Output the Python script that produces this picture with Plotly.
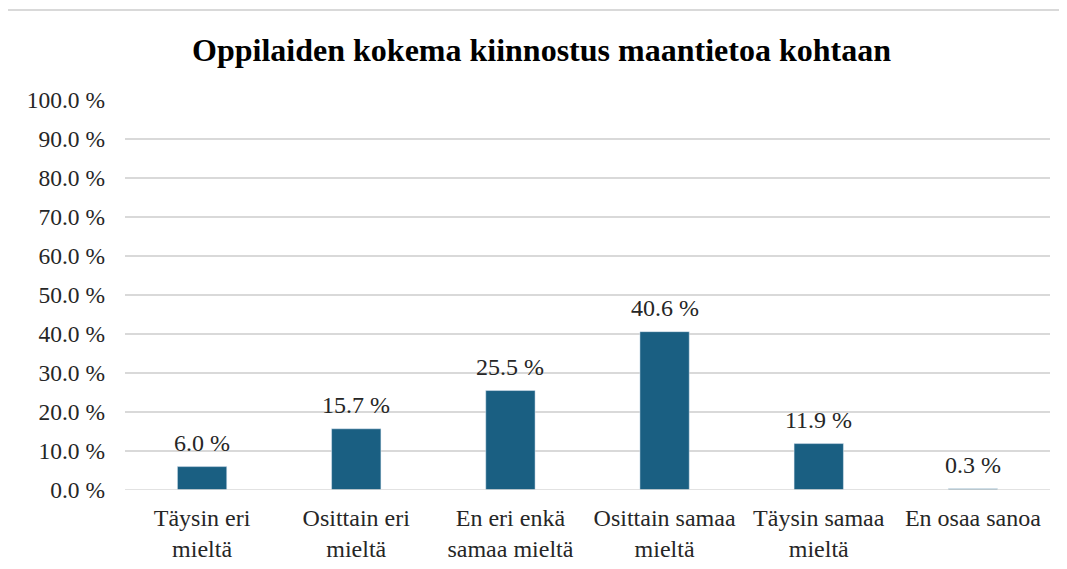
import plotly.graph_objects as go

categories = ["Täysin eri<br>mieltä", "Osittain eri<br>mieltä", "En eri enkä<br>samaa mieltä",
              "Osittain samaa<br>mieltä", "Täysin samaa<br>mieltä", "En osaa sanoa"]
values = [6.0, 15.7, 25.5, 40.6, 11.9, 0.3]
tick_vals = [0, 10, 20, 30, 40, 50, 60, 70, 80, 90, 100]
tick_text = [f"{v:.1f} %" for v in tick_vals]
labels = [f"{v:.1f} %" for v in values]

FONT = "'Liberation Serif', 'Times New Roman', Times, serif"
TXT = "#262626"

# page body has an 8px margin; figure coords = screen coords - 8
OFF = 8
W, H = 1067, 569
L, R, T, B = 125 - OFF, W - (1050 - OFF), 100 - OFF, H - (490 - OFF)
pw, ph = W - L - R, H - T - B

def px(x):
    return (x - OFF - L) / pw

def py(y):
    return (H - B - (y - OFF)) / ph

fig = go.Figure(go.Bar(
    x=categories, y=values,
    marker=dict(color="#1a5f82"),
))

annotations = [
    dict(x=c, y=v, xref="x", yref="y", text=t, showarrow=False,
         yanchor="middle", yshift=24,
         font=dict(family=FONT, size=24, color=TXT))
    for c, v, t in zip(categories, values, labels)
]

fig.update_layout(
    width=W, height=H,
    margin=dict(l=L, r=R, t=T, b=B),
    paper_bgcolor="white", plot_bgcolor="white",
    bargap=0.68,
    showlegend=False,
    title=dict(text="<b>Oppilaiden kokema kiinnostus maantietoa kohtaan</b>",
               x=0.5, xref="container", y=1 - (50 - OFF) / H, yref="container", yanchor="middle",
               font=dict(family=FONT, size=32, color="black")),
    font=dict(family=FONT, size=24, color=TXT),
    xaxis=dict(showgrid=False, showline=False, ticks="", ticklabelstandoff=11,
               tickfont=dict(family=FONT, size=24, color=TXT)),
    yaxis=dict(range=[0, 100], tickvals=tick_vals, ticktext=tick_text,
               showgrid=True, gridcolor="#d9d9d9", gridwidth=1.5, zeroline=False,
               ticks="", tickfont=dict(family=FONT, size=23.5, color=TXT), ticklabelstandoff=19),
    annotations=annotations,
    shapes=[
        dict(type="line", xref="paper", yref="paper", x0=px(7), x1=px(W + OFF), y0=py(10), y1=py(10),
             line=dict(color="#d9d9d9", width=2)),
        dict(type="line", xref="paper", yref="paper", x0=px(7), x1=px(7), y0=py(10), y1=py(H + OFF),
             line=dict(color="#d9d9d9", width=2)),
        dict(type="line", xref="paper", yref="y", x0=0, x1=1, y0=0, y1=0,
             line=dict(color="#d9d9d9", width=1.5)),
    ],
)

fig.write_html("out.html")
